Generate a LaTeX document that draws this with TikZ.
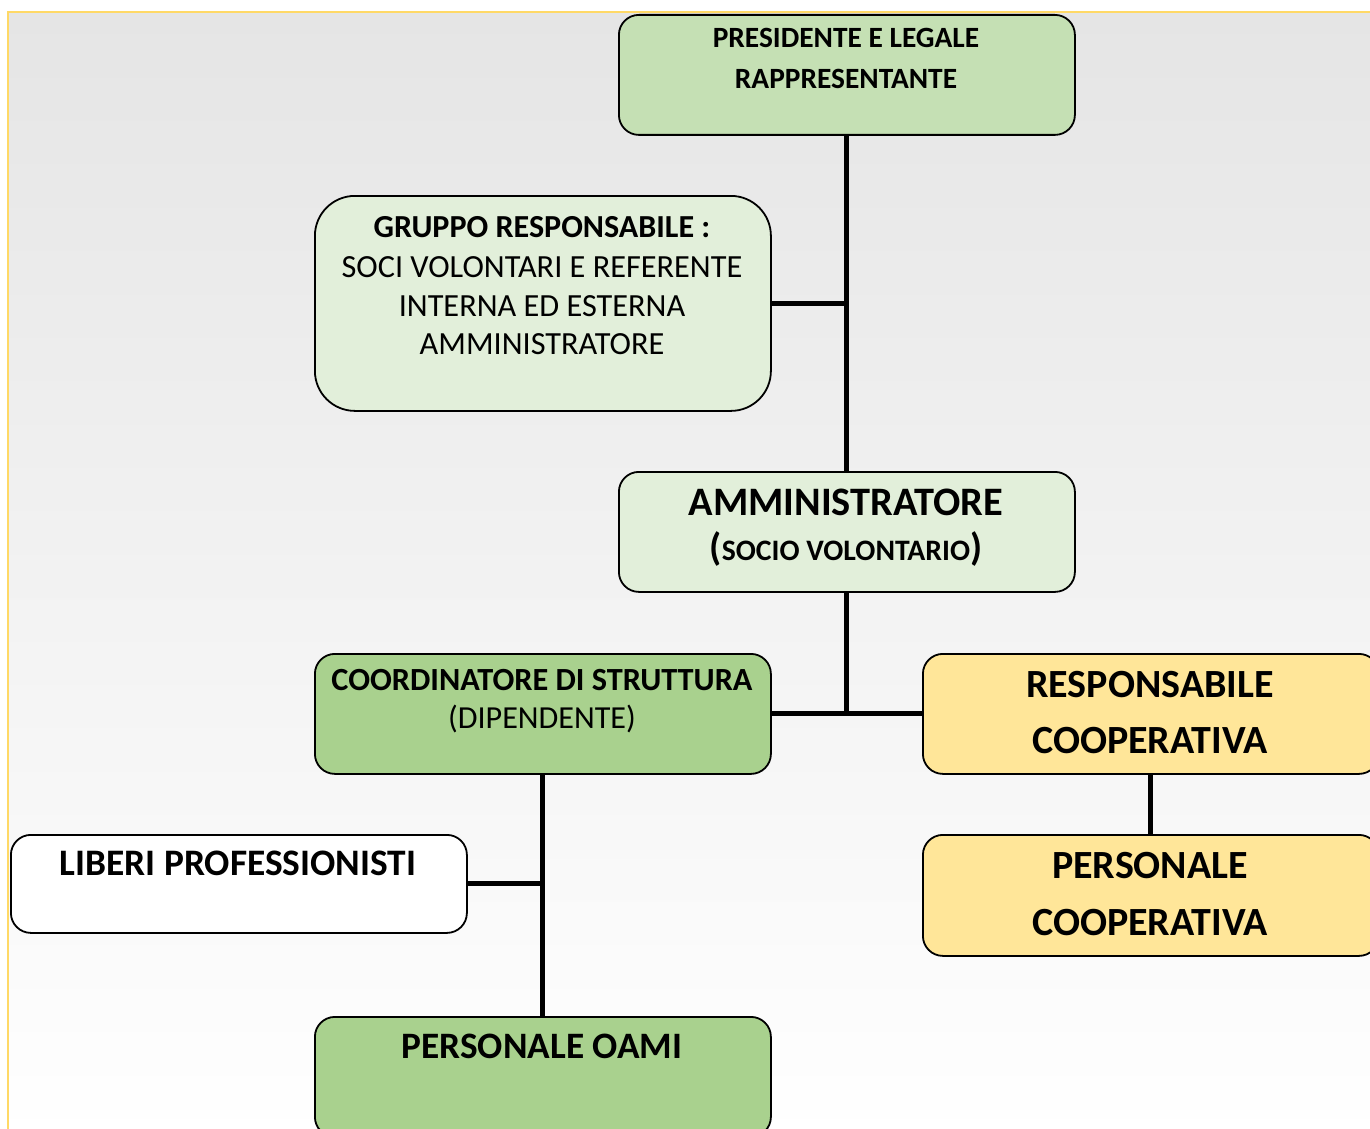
\documentclass[tikz,border=0pt]{standalone}
\usepackage{fontspec}
\setmainfont{Carlito}
\definecolor{presgreen}{HTML}{C5E0B4}
\definecolor{lightgreen}{HTML}{E2EFDA}
\definecolor{midgreen}{HTML}{A9D18E}
\definecolor{coopyellow}{HTML}{FFE699}
\definecolor{frameyellow}{HTML}{FFD966}
\definecolor{bgtop}{HTML}{E5E5E5}
\tikzset{
  orgbox/.style={draw=black, line width=1.8pt, rounded corners=20pt, minimum width=456pt, minimum height=120pt, anchor=north west, inner sep=0pt},
  conn/.style={draw=black, line width=5pt},
  lbl/.style={anchor=base, inner sep=0pt, text=black},
}
\begin{document}
\begin{tikzpicture}[x=1pt,y=-1pt]
\useasboundingbox (0,0) rectangle (1370,1129);
\clip (0,0) rectangle (1370,1129);
\fill[white] (0,0) rectangle (1370,1129);
\shade[top color=bgtop, bottom color=white] (8,12) rectangle (1380,1140);
\draw[frameyellow, line width=2pt] (1380,12) -- (8,12) -- (8,1140);

% boxes
\node[orgbox, fill=presgreen] (pres) at (618,14) {};
\node[orgbox, fill=lightgreen, minimum height=215pt, rounded corners=40pt] (grup) at (314,195) {};
\node[orgbox, fill=lightgreen] (amm) at (618,471) {};
\node[orgbox, fill=midgreen] (coord) at (314,653) {};
\node[orgbox, fill=coopyellow] (resp) at (922,653) {};
\node[orgbox, fill=coopyellow, minimum height=121pt] (perscoop) at (922,834) {};
\node[orgbox, fill=white, minimum height=98pt] (liberi) at (10,834) {};
\node[orgbox, fill=midgreen] (oami) at (314,1016) {};

% connectors
\draw[conn] (pres.south) -- (amm.north);
\draw[conn] (grup.east) -- (grup.east -| pres.south);
\draw[conn] (amm.south) -- (amm.south |- coord.east);
\draw[conn] (coord.east) -- (resp.west);
\draw[conn] (coord.south) -- (oami.north);
\draw[conn] (liberi.east) -- (liberi.east -| coord.south);
\draw[conn] (resp.south) -- (perscoop.north);

% labels
\node[lbl, font=\fontsize{29.4}{33}\selectfont\bfseries] (presA) at (846,48) {PRESIDENTE E LEGALE};
\node[lbl, font=\fontsize{29.4}{33}\selectfont\bfseries] (presB) at (846,89) {RAPPRESENTANTE};

\node[lbl, font=\fontsize{32.1}{36}\selectfont\bfseries] (grupA) at (542,237) {GRUPPO RESPONSABILE :};
\node[lbl, font=\fontsize{32.3}{36}\selectfont] (grupB) at (542,277) {SOCI VOLONTARI E REFERENTE};
\node[lbl, font=\fontsize{32.3}{36}\selectfont] (grupC) at (542,316) {INTERNA ED ESTERNA};
\node[lbl, font=\fontsize{32.3}{36}\selectfont] (grupD) at (542,354) {AMMINISTRATORE};

\node[lbl, font=\fontsize{40.4}{44}\selectfont\bfseries] (ammA) at (846,515) {AMMINISTRATORE};
\node[lbl, font=\fontsize{29.7}{34}\selectfont\bfseries] (ammB) at (846,560) {{\fontsize{38.9}{42}\selectfont(}SOCIO VOLONTARIO{\fontsize{38.9}{42}\selectfont)}};

\node[lbl, font=\fontsize{32.3}{36}\selectfont\bfseries] (coordA) at (542,690) {COORDINATORE DI STRUTTURA};
\node[lbl, font=\fontsize{32.1}{36}\selectfont] (coordB) at (542,728) {(DIPENDENTE)};

\node[lbl, font=\fontsize{40}{44}\selectfont\bfseries] (respA) at (1150,697) {RESPONSABILE};
\node[lbl, font=\fontsize{40}{44}\selectfont\bfseries] (respB) at (1150,753) {COOPERATIVA};

\node[lbl, font=\fontsize{40}{44}\selectfont\bfseries] (pcA) at (1150,878) {PERSONALE};
\node[lbl, font=\fontsize{40}{44}\selectfont\bfseries] (pcB) at (1150,935) {COOPERATIVA};

\node[lbl, font=\fontsize{37.4}{41}\selectfont\bfseries] (libA) at (238,875) {LIBERI PROFESSIONISTI};

\node[lbl, font=\fontsize{37.3}{41}\selectfont\bfseries] (oamiA) at (542,1058) {PERSONALE OAMI};
\end{tikzpicture}
\end{document}
